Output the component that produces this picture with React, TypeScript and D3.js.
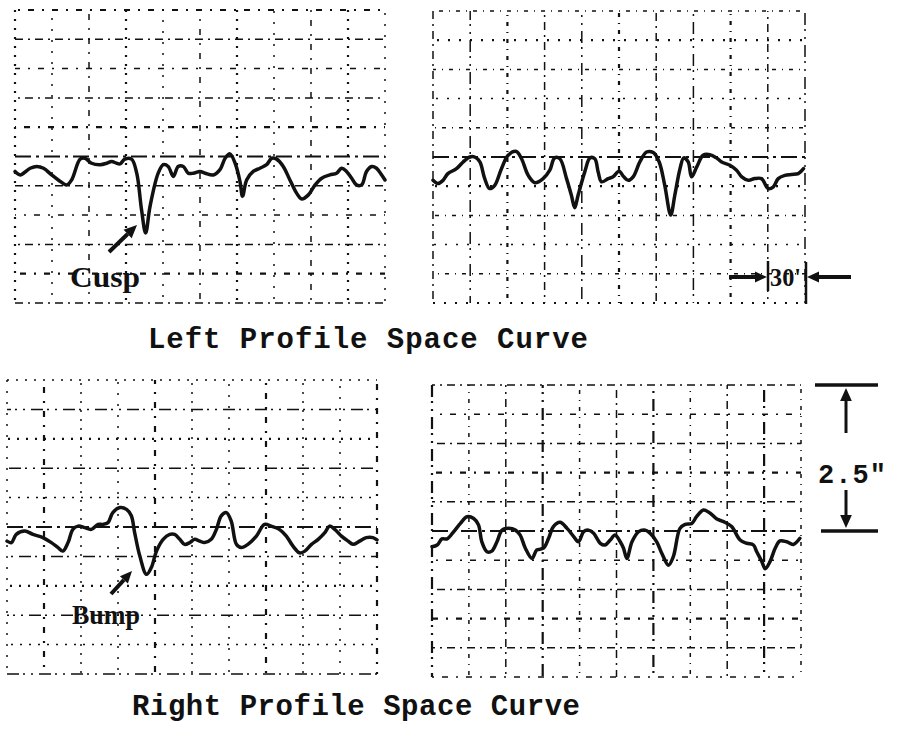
import * as d3 from "d3";

// profile traces, x in grid columns (0..10), y in grid rows from the reference line (+ up)
const leftProfileA: [number, number][] = [
  [0, -0.51], [0.14, -0.63], [0.41, -0.4], [0.59, -0.34], [0.77, -0.4], [0.99, -0.63],
  [1.17, -0.8], [1.4, -0.97], [1.53, -0.8], [1.76, -0.09], [1.89, -0.06], [2.07, -0.23],
  [2.3, -0.28], [2.48, -0.23], [2.61, -0.17], [2.75, -0.23], [2.84, -0.25], [2.97, -0.09],
  [3.15, -0.09], [3.29, -0.57], [3.42, -1.82], [3.53, -2.61], [3.65, -1.7], [3.87, -0.57],
  [4.01, -0.28], [4.14, -0.34], [4.28, -0.68], [4.41, -0.34], [4.55, -0.34], [4.68, -0.57],
  [4.82, -0.57], [5.0, -0.51], [5.14, -0.57], [5.36, -0.63], [5.54, -0.45], [5.68, -0.06],
  [5.81, 0.09], [5.95, -0.23], [6.08, -0.85], [6.15, -1.36], [6.26, -0.8], [6.44, -0.51],
  [6.62, -0.4], [6.8, -0.28], [6.94, -0.06], [7.07, -0.09], [7.25, -0.34], [7.43, -0.8],
  [7.61, -1.25], [7.75, -1.45], [7.93, -1.31], [8.11, -0.97], [8.29, -0.74], [8.51, -0.63],
  [8.69, -0.57], [8.83, -0.4], [8.96, -0.51], [9.1, -0.74], [9.23, -0.97], [9.37, -0.97],
  [9.5, -0.51], [9.64, -0.34], [9.77, -0.4], [9.91, -0.63], [10.0, -0.8],
];

const leftProfileB: [number, number][] = [
  [0, -0.8], [0.13, -0.91], [0.27, -0.8], [0.4, -0.57], [0.63, -0.4], [0.81, -0.17],
  [0.99, 0.0], [1.12, 0.0], [1.26, -0.17], [1.39, -0.74], [1.52, -1.08], [1.66, -0.97],
  [1.84, -0.4], [2.02, 0.06], [2.24, 0.19], [2.38, -0.06], [2.56, -0.63], [2.74, -0.88],
  [2.96, -0.74], [3.14, -0.45], [3.27, -0.03], [3.41, -0.06], [3.59, -0.74], [3.72, -1.31],
  [3.81, -1.74], [3.9, -1.31], [4.08, -0.51], [4.22, -0.03], [4.35, -0.06], [4.44, -0.51],
  [4.53, -0.85], [4.71, -0.74], [4.84, -0.68], [5.0, -0.49], [5.13, -0.68], [5.25, -0.8],
  [5.38, -0.68], [5.56, -0.17], [5.74, 0.17], [5.92, 0.15], [6.08, -0.17], [6.23, -0.97],
  [6.39, -1.99], [6.5, -1.31], [6.64, -0.4], [6.74, -0.03], [6.86, -0.17], [6.95, -0.68],
  [7.09, -0.34], [7.26, 0.06], [7.44, 0.08], [7.62, -0.03], [7.76, -0.17], [7.98, -0.28],
  [8.16, -0.45], [8.3, -0.68], [8.48, -0.8], [8.65, -0.74], [8.83, -0.74], [9.01, -1.08],
  [9.15, -1.02], [9.28, -0.74], [9.46, -0.63], [9.64, -0.6], [9.82, -0.57], [9.96, -0.4],
];

const rightProfileA: [number, number][] = [
  [0, -0.48], [0.12, -0.53], [0.25, -0.25], [0.48, -0.14], [0.7, -0.25], [0.97, -0.36],
  [1.2, -0.53], [1.38, -0.7], [1.51, -0.82], [1.65, -0.53], [1.78, -0.08], [1.92, 0.03],
  [2.1, -0.02], [2.28, -0.08], [2.46, 0.09], [2.59, 0.09], [2.73, 0.15], [2.86, 0.49],
  [3.05, 0.66], [3.23, 0.6], [3.36, 0.38], [3.45, -0.19], [3.59, -0.99], [3.77, -1.61],
  [3.9, -1.38], [4.04, -0.82], [4.22, -0.42], [4.4, -0.25], [4.53, -0.25], [4.67, -0.42],
  [4.8, -0.59], [4.94, -0.53], [5.07, -0.42], [5.21, -0.48], [5.34, -0.53], [5.52, -0.42],
  [5.66, -0.08], [5.79, 0.38], [5.93, 0.49], [6.06, 0.2], [6.2, -0.59], [6.33, -0.7],
  [6.51, -0.59], [6.74, -0.31], [6.96, 0.09], [7.14, 0.03], [7.36, -0.08], [7.55, -0.31],
  [7.73, -0.65], [7.91, -0.88], [8.05, -0.82], [8.23, -0.59], [8.41, -0.42], [8.59, -0.19],
  [8.72, 0.03], [8.86, -0.08], [9.04, -0.31], [9.22, -0.48], [9.35, -0.59], [9.53, -0.48],
  [9.71, -0.36], [9.89, -0.36], [10.0, -0.44],
];

const rightProfileB: [number, number][] = [
  [0, -0.54], [0.14, -0.48], [0.27, -0.27], [0.41, -0.27], [0.59, -0.02], [0.77, 0.26],
  [0.95, 0.49], [1.13, 0.43], [1.26, 0.21], [1.35, -0.37], [1.49, -0.71], [1.62, -0.69],
  [1.76, -0.37], [1.9, 0.03], [2.08, 0.09], [2.26, 0.03], [2.39, -0.14], [2.53, -0.59],
  [2.71, -0.94], [2.84, -0.65], [3.02, -0.59], [3.16, -0.25], [3.29, 0.15], [3.47, 0.3],
  [3.66, 0.09], [3.84, -0.19], [3.97, -0.37], [4.11, -0.02], [4.24, 0.03], [4.38, -0.08],
  [4.56, -0.42], [4.69, -0.48], [4.83, -0.31], [4.96, -0.14], [5.1, -0.37], [5.19, -0.59],
  [5.28, -0.94], [5.42, -0.37], [5.6, -0.02], [5.78, 0.03], [5.91, -0.08], [6.09, -0.37],
  [6.23, -0.77], [6.41, -1.17], [6.54, -0.88], [6.72, 0.09], [6.86, 0.23], [7.04, 0.26],
  [7.17, 0.49], [7.36, 0.72], [7.54, 0.61], [7.72, 0.41], [7.9, 0.32], [8.12, 0.15],
  [8.35, -0.31], [8.53, -0.42], [8.71, -0.48], [8.8, -0.71], [8.94, -1.05], [9.03, -1.29],
  [9.16, -1.05], [9.3, -0.59], [9.43, -0.34], [9.61, -0.37], [9.79, -0.46], [9.97, -0.25],
];

const gridColumns = d3.range(0, 11);
const gridRows = d3.range(-5, 6);

const titles = ["Left Profile Space Curve", "Right Profile Space Curve"];
const notes = ["Cusp", "Bump"];
const scaleLabel = "30'";
const heightLabel = '2.5"';

const INK = "#111";
// scanned strip-chart grid: broken dash-dot lines of uneven weight
const dashes = ["2 7", "8 5 2 5", "2 9", "12 4 2 6 2 6", "2 8 6 8", "4 6 1 6"];

type Panel = {
  key: string;
  left: number;
  right: number;
  top: number;
  bottom: number;
  data: [number, number][];
};

const panels: Panel[] = [
  { key: "tl", left: 15, right: 385, top: 10, bottom: 303, data: leftProfileA },
  { key: "tr", left: 433, right: 805, top: 11, bottom: 303, data: leftProfileB },
  { key: "bl", left: 7, right: 377, top: 380, bottom: 674, data: rightProfileA },
  { key: "br", left: 432, right: 801, top: 385, bottom: 677, data: rightProfileB },
];

const scalesFor = (p: Panel) => ({
  x: d3.scaleLinear().domain([0, 10]).range([p.left, p.right]),
  y: d3.scaleLinear().domain([-5, 5]).range([p.bottom, p.top]),
});

const Arrow = ({ x1, y1, x2, y2, head = 11, w = 3 }: { x1: number; y1: number; x2: number; y2: number; head?: number; w?: number }) => {
  const a = Math.atan2(y2 - y1, x2 - x1);
  const bx = x2 - head * Math.cos(a);
  const by = y2 - head * Math.sin(a);
  const hw = head * 0.45;
  const px = -Math.sin(a) * hw;
  const py = Math.cos(a) * hw;
  return (
    <g>
      <line x1={x1} y1={y1} x2={bx} y2={by} stroke={INK} strokeWidth={w} />
      <polygon points={`${x2},${y2} ${bx + px},${by + py} ${bx - px},${by - py}`} fill={INK} />
    </g>
  );
};

const ChartPanel = ({ p, pi }: { p: Panel; pi: number }) => {
  const { x, y } = scalesFor(p);
  const line = d3
    .line<[number, number]>()
    .x((d) => x(d[0]))
    .y((d) => y(d[1]))
    .curve(d3.curveCatmullRom.alpha(0.5));
  return (
    <g>
      {gridColumns.map((c, i) => (
        <line
          key={`v${c}`}
          x1={x(c)}
          x2={x(c)}
          y1={p.top}
          y2={p.bottom}
          stroke={INK}
          strokeWidth={(i + pi) % 3 === 0 ? 2.2 : 1.5}
          strokeDasharray={dashes[(i * 2 + pi) % dashes.length]}
          strokeDashoffset={i * 3}
        />
      ))}
      {gridRows
        .filter((r) => r !== 0)
        .map((r, i) => (
          <line
            key={`h${r}`}
            x1={p.left}
            x2={p.right}
            y1={y(r)}
            y2={y(r)}
            stroke={INK}
            strokeWidth={(i + pi) % 4 === 1 ? 2.2 : 1.5}
            strokeDasharray={dashes[(i * 3 + pi + 1) % dashes.length]}
            strokeDashoffset={i * 5}
          />
        ))}
      <line
        x1={p.left}
        x2={p.right}
        y1={y(0)}
        y2={y(0)}
        stroke={INK}
        strokeWidth={2}
        strokeDasharray="16 5 3 5"
      />
      <path
        d={line(p.data) ?? ""}
        fill="none"
        stroke={INK}
        strokeWidth={3.5}
        strokeLinejoin="round"
        strokeLinecap="round"
      />
    </g>
  );
};

export default function App() {
  const br = scalesFor(panels[3]);
  const dimX = 846;
  const dimTop = br.y(5);
  const dimBottom = br.y(0);
  return (
    <svg
      width={897}
      height={739}
      style={{ position: "absolute", left: 0, top: 0, background: "#fff" }}
    >
      <rect width={897} height={739} fill="#fff" />
      {panels.map((p, i) => (
        <ChartPanel key={p.key} p={p} pi={i} />
      ))}

      {/* annotations */}
      <Arrow x1={109} y1={252} x2={137} y2={225} head={13} w={4} />
      <text x={70} y={287} fontFamily="'Liberation Serif', serif" fontWeight="bold" fontSize={30} fill={INK} textLength={70} lengthAdjust="spacingAndGlyphs">
        {notes[0]}
      </text>
      <Arrow x1={111} y1={594} x2={132} y2={571} head={12} w={4} />
      <text x={72} y={624} fontFamily="'Liberation Serif', serif" fontWeight="bold" fontSize={27} fill={INK} textLength={68} lengthAdjust="spacingAndGlyphs">
        {notes[1]}
      </text>

      {/* 30' scale bar */}
      <Arrow x1={729} y1={277} x2={767} y2={277} head={12} w={4} />
      <line x1={768} x2={768} y1={261} y2={291} stroke={INK} strokeWidth={2.5} />
      <text x={770} y={286} fontFamily="'Liberation Serif', serif" fontWeight="bold" fontSize={25} fill={INK} textLength={31} lengthAdjust="spacingAndGlyphs">
        {scaleLabel}
      </text>
      <line x1={806} x2={806} y1={262} y2={304} stroke={INK} strokeWidth={2.5} />
      <Arrow x1={851} y1={277} x2={807} y2={277} head={12} w={4} />

      {/* 2.5" height dimension */}
      <line x1={815} x2={878} y1={dimTop} y2={dimTop} stroke={INK} strokeWidth={3.5} />
      <Arrow x1={dimX} y1={dimTop + 48} x2={dimX} y2={dimTop + 3} head={13} w={3} />
      <text x={852} y={dimTop + 98} textAnchor="middle" fontFamily="'Liberation Mono', monospace" fontWeight="bold" fontSize={27} fill={INK} textLength={68} lengthAdjust="spacing">
        {heightLabel}
      </text>
      <Arrow x1={dimX} y1={dimTop + 105} x2={dimX} y2={dimBottom - 3} head={13} w={3} />
      <line x1={821} x2={878} y1={dimBottom} y2={dimBottom} stroke={INK} strokeWidth={3.5} />

      {/* titles */}
      <text x={148} y={348} fontFamily="'Liberation Mono', monospace" fontWeight="bold" fontSize={29} fill={INK} textLength={440} lengthAdjust="spacing">
        {titles[0]}
      </text>
      <text x={132} y={715} fontFamily="'Liberation Mono', monospace" fontWeight="bold" fontSize={29} fill={INK} textLength={448} lengthAdjust="spacing">
        {titles[1]}
      </text>
    </svg>
  );
}
